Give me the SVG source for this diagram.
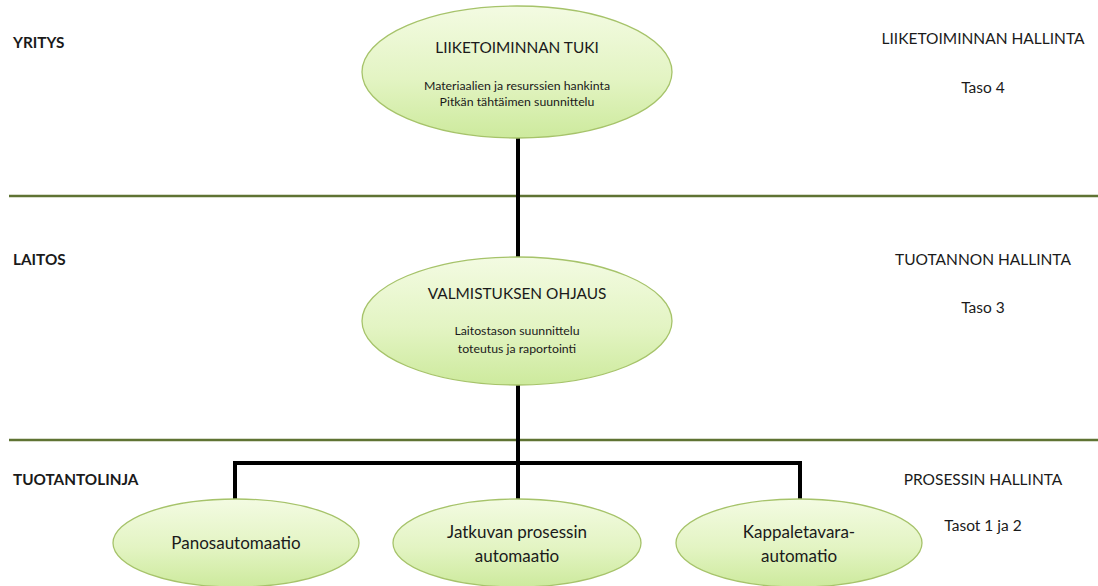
<svg xmlns="http://www.w3.org/2000/svg" width="1098" height="586" viewBox="0 0 1098 586">
  <defs>
    <linearGradient id="nodeFill" x1="0" y1="0" x2="0" y2="1">
      <stop offset="0" stop-color="#f3fbe2"/>
      <stop offset="0.55" stop-color="#e3f4c3"/>
      <stop offset="1" stop-color="#cdea9d"/>
    </linearGradient>
    <style>
      .node { fill: url(#nodeFill); stroke: #a6c36a; stroke-width: 1.3; }
      .level { stroke: #5f7333; stroke-width: 2.5; fill: none; }
      .link { stroke: #000; stroke-width: 4; fill: none; stroke-linecap: butt; stroke-linejoin: miter; }
      text { font-family: Lato, "Liberation Sans", sans-serif; fill: #1a1a1a; }
      .side { font-size: 15.3px; font-weight: bold; }
      .right { font-size: 15.5px; text-anchor: middle; }
      .title { font-size: 15.4px; text-anchor: middle; }
      .sub { font-size: 12.3px; text-anchor: middle; }
      .leaf { font-size: 17px; text-anchor: middle; }
    </style>
  </defs>
  <rect width="1098" height="586" fill="#fff"/>

  <!-- level separators -->
  <g id="levels">
    <line class="level" x1="9" y1="196" x2="1098" y2="196"/>
    <line class="level" x1="9" y1="440" x2="1098" y2="440"/>
  </g>

  <!-- level labels -->
  <g id="labels">
    <text class="side" x="13" y="48">YRITYS</text>
    <text class="side" x="13" y="265">LAITOS</text>
    <text class="side" x="13" y="485">TUOTANTOLINJA</text>
    <text class="right" x="983" y="44">LIIKETOIMINNAN HALLINTA</text>
    <text class="right" x="983" y="93">Taso 4</text>
    <text class="right" x="983" y="265">TUOTANNON HALLINTA</text>
    <text class="right" x="983" y="313">Taso 3</text>
    <text class="right" x="983" y="485">PROSESSIN HALLINTA</text>
    <text class="right" x="983" y="531">Tasot 1 ja 2</text>
  </g>

  <!-- connectors -->
  <g id="connectors">
    <line class="link" x1="518" y1="137" x2="518" y2="258"/>
    <line class="link" x1="518" y1="385" x2="518" y2="463"/>
    <polyline class="link" points="235,500 235,463 800,463 800,500"/>
    <line class="link" x1="518" y1="463" x2="518" y2="500"/>
  </g>

  <g id="liiketoiminnan-tuki">
    <ellipse class="node" cx="517" cy="72" rx="155" ry="66"/>
    <text class="title" x="517" y="53">LIIKETOIMINNAN TUKI</text>
    <text class="sub" x="517" y="90">Materiaalien ja resurssien hankinta</text>
    <text class="sub" x="517" y="106">Pitkän tähtäimen suunnittelu</text>
  </g>

  <g id="valmistuksen-ohjaus">
    <ellipse class="node" cx="517" cy="321" rx="155" ry="64"/>
    <text class="title" x="517" y="299">VALMISTUKSEN OHJAUS</text>
    <text class="sub" x="517" y="335">Laitostason suunnittelu</text>
    <text class="sub" x="517" y="353">toteutus ja raportointi</text>
  </g>

  <g id="panosautomaatio">
    <ellipse class="node" cx="236" cy="543" rx="123" ry="44"/>
    <text class="leaf" x="236" y="549">Panosautomaatio</text>
  </g>

  <g id="jatkuvan-prosessin-automaatio">
    <ellipse class="node" cx="517" cy="543" rx="124" ry="44"/>
    <text class="leaf" x="517" y="538">Jatkuvan prosessin</text>
    <text class="leaf" x="517" y="562">automaatio</text>
  </g>

  <g id="kappaletavara-automatio">
    <ellipse class="node" cx="799" cy="543" rx="123" ry="44"/>
    <text class="leaf" x="799" y="538">Kappaletavara-</text>
    <text class="leaf" x="799" y="562">automatio</text>
  </g>
</svg>
